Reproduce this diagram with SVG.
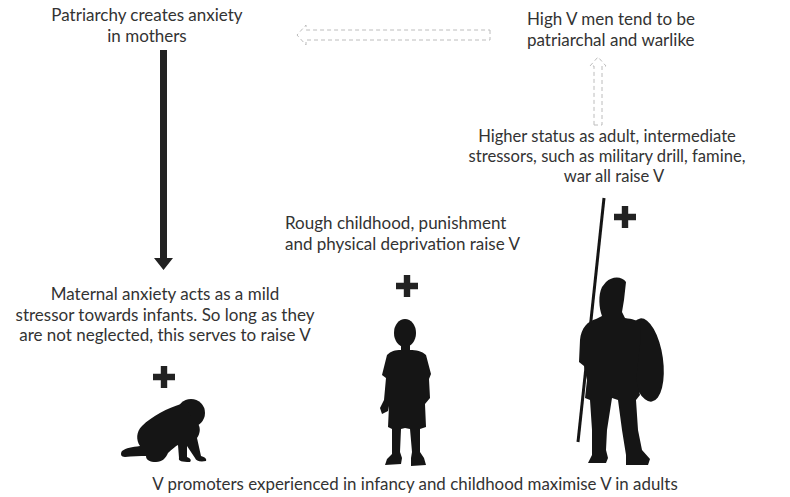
<svg xmlns="http://www.w3.org/2000/svg" width="790" height="497" viewBox="0 0 790 497">
  <style>
    .t { font-family: Lato, "Open Sans", "Liberation Sans", sans-serif; font-size: 17px; fill: #333; }
    .c { text-anchor: middle; }
    .dash { fill: none; stroke: #bcbcbc; stroke-width: 1; stroke-dasharray: 4 3; }
    .sil { fill: #151515; }
    .plus { fill: #222; }
  </style>
  <defs>
    <path id="plusShape" d="M -3.2 -11 H 3.2 V -3.2 H 11 V 3.2 H 3.2 V 11 H -3.2 V 3.2 H -11 V -3.2 H -3.2 Z"/>
  </defs>

  <rect width="790" height="497" fill="#fff"/>

  <!-- connectors -->
  <g id="connectors">
    <!-- solid downward arrow -->
    <path d="M 160 50 H 167 V 258 H 173 L 163.5 270 L 154 258 H 160 Z" fill="#222"/>
    <!-- dashed hollow arrow pointing left -->
    <path class="dash" d="M 490 30 V 40 H 306 V 45 L 297 35 L 306 25 V 30 Z"/>
    <!-- dashed hollow arrow pointing up -->
    <path class="dash" d="M 594 125 H 602 V 66 H 606 L 598 57 L 590 66 H 594 Z"/>
  </g>

  <!-- patriarchy node -->
  <g id="patriarchy">
    <text class="t c" x="147" y="21">Patriarchy creates anxiety</text>
    <text class="t c" x="147" y="41.5">in mothers</text>
  </g>

  <!-- high V men node -->
  <g id="high-v-men">
    <text class="t" x="527" y="25">High V men tend to be</text>
    <text class="t" x="527" y="45.5">patriarchal and warlike</text>
  </g>

  <!-- adult / warrior node -->
  <g id="adult">
    <text class="t c" x="607" y="142" style="font-size:16.6px">Higher status as adult, intermediate</text>
    <text class="t c" x="607" y="162" style="font-size:16.6px">stressors, such as military drill, famine,</text>
    <text class="t c" x="614" y="182" style="font-size:16.6px">war all raise V</text>
    <use href="#plusShape" class="plus" x="625" y="217"/>
    <!-- spear -->
    <line x1="604" y1="198" x2="578" y2="442" stroke="#151515" stroke-width="3"/>
    <!-- shield -->
    <ellipse class="sil" cx="646" cy="360" rx="17" ry="42" transform="rotate(-8 646 360)"/>
    <!-- body -->
    <path class="sil" d="M 606 282 C 612 276 622 276 626 282 L 624 300 L 622 312 L 625 318 C 632 319 638 320 641 324 L 640 345 L 636 380 L 640 395 L 636 400 L 638 430 L 642 450 L 650 459 L 648 465 L 626 465 L 626 455 L 622 430 L 618 400 L 612 398 L 607 430 L 606 450 L 608 458 L 606 463 L 588 463 L 592 455 L 592 430 L 590 400 L 585 398 L 587 380 L 584 366 L 579 362 L 580 340 C 581 328 588 321 596 319 L 602 316 C 599 308 598 295 602 287 Z"/>
  </g>

  <!-- childhood node -->
  <g id="childhood">
    <text class="t" x="285" y="229">Rough childhood, punishment</text>
    <text class="t" x="285" y="249.5">and physical deprivation raise V</text>
    <use href="#plusShape" class="plus" x="407" y="286"/>
    <ellipse class="sil" cx="405" cy="333" rx="11" ry="14"/>
    <path class="sil" d="M 401 345 H 410 V 350 C 416 350 422 351 426 355 L 431 374 L 429 379 L 430 398 L 425 404 L 426 427 L 420 429 L 420 452 L 424 458 L 426 465 L 411 466 L 411 458 L 412 452 L 410 429 L 405 428 L 401 429 L 400 452 L 402 458 L 401 464 L 385 465 L 387 459 L 392 454 L 392 429 L 388 427 L 389 406 L 388 411 L 382 414 L 380 408 L 384 400 L 386 378 L 382 375 L 387 355 C 391 351 395 350 401 350 Z"/>
  </g>

  <!-- infancy node -->
  <g id="infancy">
    <text class="t c" x="165" y="300">Maternal anxiety acts as a mild</text>
    <text class="t c" x="165" y="320.5">stressor towards infants. So long as they</text>
    <text class="t c" x="165" y="341">are not neglected, this serves to raise V</text>
    <use href="#plusShape" class="plus" x="164" y="377"/>
    <circle class="sil" cx="191" cy="413" r="14"/>
    <path class="sil" d="M 181 404 C 168 408 152 416 142 426 C 136 432 136 440 140 446 C 132 447 126 448 122 451 C 120 454 121 457 125 457 C 132 456 140 456 146 456 C 146 460 150 462 156 462 C 162 462 166 458 168 453 C 172 449 176 446 178 445 L 179 458 C 178 461 182 462 190 462 C 192 460 190 458 187 457 L 187 446 L 195 458 C 196 461 200 462 206 461 C 207 459 205 457 201 456 L 197 438 C 200 434 201 428 198 424 Z"/>
  </g>

  <!-- summary caption -->
  <g id="summary">
    <text class="t c" x="415" y="490" style="font-size:16.9px">V promoters experienced in infancy and childhood maximise V in adults</text>
  </g>
</svg>
